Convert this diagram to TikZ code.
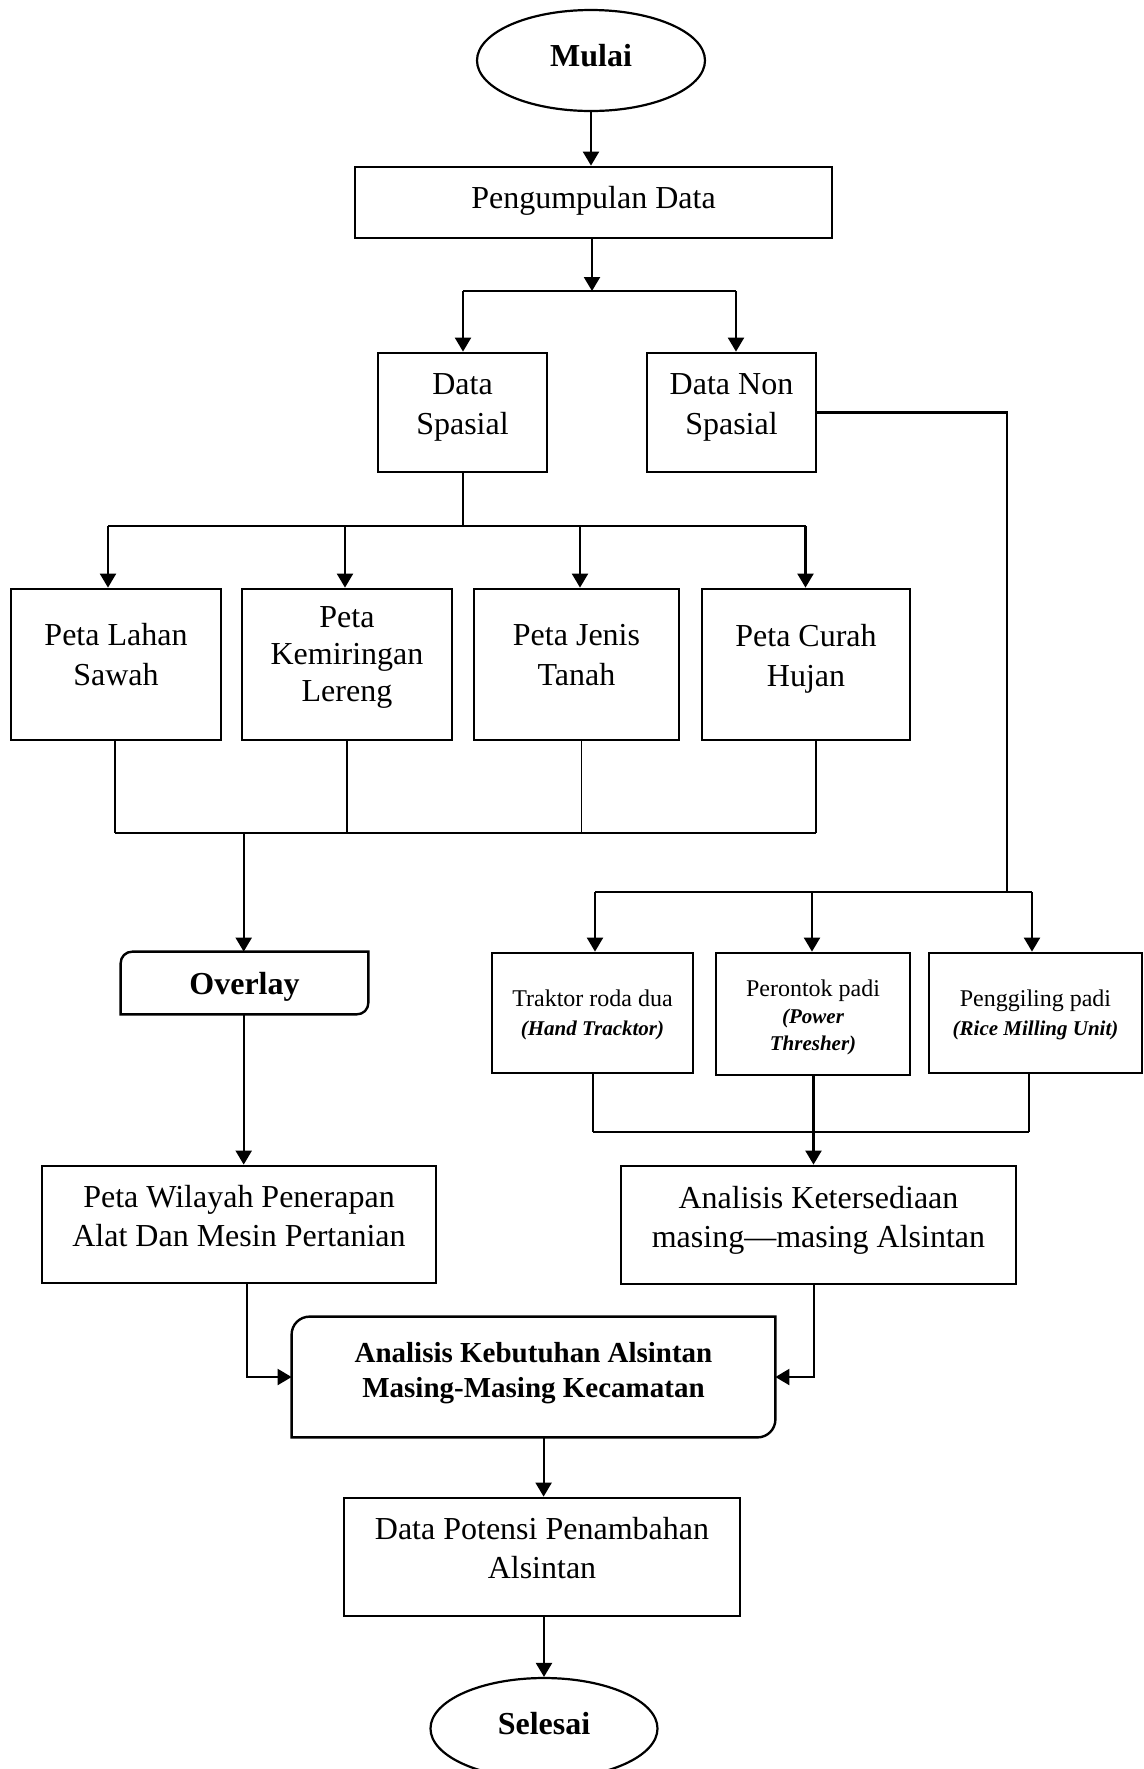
\documentclass[tikz,border=0pt]{standalone}
\usepackage{fontspec}
\setmainfont{Liberation Serif}
\usetikzlibrary{arrows.meta,shapes.geometric,calc}
\newcommand\fbig{\fontsize{16}{19.5}\selectfont}
\newcommand\fsmall{\fontsize{12}{14.5}\selectfont}
\newcommand\fsbi{\fontsize{10.5}{14.5}\selectfont\bfseries\itshape}
\newcommand\fkeb{\fontsize{14.5}{17.5}\selectfont\bfseries}
\begin{document}
\begin{tikzpicture}[x=0.5pt,y=-0.5pt,
  bx/.style={draw, rectangle, line width=1.4pt, inner sep=0pt},
  bnd/.style={rectangle, inner sep=0pt},
  term/.style={draw, ellipse, line width=1.1pt, inner sep=0pt},
  rbx/.style={line width=1.2pt},
  arr/.style={line width=1.1pt, -{Triangle[length=7pt,width=8pt]}},
  ln/.style={line width=1.1pt},
  thn/.style={line width=0.8pt},
  txt/.style={align=center, inner sep=0pt, font=\fbig},
  stxt/.style={align=center, inner sep=0pt, font=\fsmall},
]
\fill[white] (0,0) rectangle (1144,1769);
\useasboundingbox (0,0) rectangle (1144,1769);

% ---------- nodes ----------
\node[term, minimum width=114pt, minimum height=50.5pt] (mulai) at (591,60.5) {};
\node[txt, font=\fbig\bfseries] (mulaiT) at (591,56) {Mulai};

\node[bx, minimum width=238.5pt, minimum height=35.5pt] (peng) at (593.5,202.5) {};
\node[txt] (pengT) at (593.5,201) {Pengumpulan Data};

\node[bx, minimum width=84.5pt, minimum height=59.5pt] (ds) at (462.5,412.5) {};
\node[txt, font=\fontsize{16}{20}\selectfont] (dsT) at (462.5,407) {Data\\Spasial};
\node[bx, minimum width=84.5pt, minimum height=59.5pt] (dns) at (731.5,412.5) {};
\node[txt, font=\fontsize{16}{20}\selectfont] (dnsT) at (731.5,407) {Data Non\\Spasial};

\node[bx, minimum width=105pt, minimum height=75.5pt] (pls) at (116,664.5) {};
\node[txt, font=\fontsize{16}{20}\selectfont] (plsT) at (116,655) {Peta Lahan\\Sawah};
\node[bx, minimum width=105pt, minimum height=75.5pt] (pkl) at (347,664.5) {};
\node[txt, font=\fontsize{16}{18.5}\selectfont] (pklT) at (347,657) {Peta\\Kemiringan\\Lereng};
\node[bx, minimum width=102.5pt, minimum height=75.5pt] (pjt) at (576.5,664.5) {};
\node[txt, font=\fontsize{16}{20}\selectfont] (pjtT) at (576.5,655) {Peta Jenis\\Tanah};
\node[bx, minimum width=104pt, minimum height=75.5pt] (pch) at (806,664.5) {};
\node[txt, font=\fontsize{16}{20}\selectfont] (pchT) at (806,659) {Peta Curah\\Hujan};

\node[bnd, minimum width=123.5pt, minimum height=31pt] (ov) at (244.5,983) {};
\node[txt, font=\fbig\bfseries] (ovT) at (244.5,987) {Overlay};

\node[bx, minimum width=100.5pt, minimum height=60pt] (tr) at (592.5,1013) {};
\node[stxt] (trT) at (592.5,1015) {Traktor roda dua\\{\fsbi (Hand Tracktor)}};
\node[bx, minimum width=97pt, minimum height=61pt] (pr) at (813,1014) {};
\node[stxt, font=\fontsize{12}{13.5}\selectfont] (prT) at (813,1017) {Perontok padi\\{\fontsize{10.5}{13.5}\selectfont\bfseries\itshape (Power}\\{\fontsize{10.5}{13.5}\selectfont\bfseries\itshape Thresher)}};
\node[bx, minimum width=106.5pt, minimum height=60pt] (pg) at (1035.5,1013) {};
\node[stxt] (pgT) at (1035.5,1015) {Penggiling padi\\{\fsbi (Rice Milling Unit)}};

\node[bx, minimum width=197pt, minimum height=58.5pt] (pw) at (239,1224.5) {};
\node[txt] (pwT) at (239,1216.5) {Peta Wilayah Penerapan\\Alat Dan Mesin Pertanian};
\node[bx, minimum width=197.5pt, minimum height=59pt] (ak) at (818.5,1225) {};
\node[txt] (akT) at (818.5,1220) {Analisis Ketersediaan\\masing\textemdash masing Alsintan};

\node[bnd, minimum width=241.5pt, minimum height=60pt] (kb) at (533.5,1377) {};
\node[txt, font=\fkeb] (kbT) at (533.5,1373) {Analisis Kebutuhan Alsintan\\Masing-Masing Kecamatan};

\node[bx, minimum width=198pt, minimum height=59pt] (dp) at (542,1557) {};
\node[txt] (dpT) at (542,1548.5) {Data Potensi Penambahan\\Alsintan};

\node[term, minimum width=113.5pt, minimum height=50.5pt] (sel) at (544,1728.5) {};
\node[txt, font=\fbig\bfseries] (selT) at (544,1724) {Selesai};

% ---------- rounded-corner boxes ----------
\draw[rbx] ($(ov.north west)+(0,12)$) .. controls ($(ov.north west)+(0,5)$) and ($(ov.north west)+(5,0)$) .. ($(ov.north west)+(12,0)$)
  -- (ov.north east) -- ($(ov.south east)+(0,-12)$)
  .. controls ($(ov.south east)+(0,-5)$) and ($(ov.south east)+(-5,0)$) .. ($(ov.south east)+(-12,0)$)
  -- (ov.south west) -- cycle;
\draw[rbx] ($(kb.north west)+(0,18)$) .. controls ($(kb.north west)+(0,8)$) and ($(kb.north west)+(8,0)$) .. ($(kb.north west)+(18,0)$)
  -- (kb.north east) -- ($(kb.south east)+(0,-18)$)
  .. controls ($(kb.south east)+(0,-8)$) and ($(kb.south east)+(-8,0)$) .. ($(kb.south east)+(-18,0)$)
  -- (kb.south west) -- cycle;

% ---------- connectors ----------
\draw[arr] (mulai.south) -- (mulai.south |- peng.north);

\coordinate (busA) at (592,291);
\coordinate (busAl) at (463,291);
\coordinate (busAr) at (736,291);
\draw[arr] (busA |- peng.south) -- (busA);
\draw[ln] (busAl) -- (busAr);
\draw[arr] (busAl) -- (busAl |- ds.north);
\draw[arr] (busAr) -- (busAr |- dns.north);

% Data Spasial -> peta boxes
\coordinate (busB) at (463,526);
\coordinate (busBl) at (108,526);
\coordinate (busBr) at (805.5,526);
\coordinate (b2) at (345,526);
\coordinate (b3) at (580,526);
\draw[thn] (busB |- ds.south) -- (busB);
\draw[ln] (busBl) -- (busBr);
\draw[arr] (busBl) -- (busBl |- pls.north);
\draw[arr] (b2) -- (b2 |- pkl.north);
\draw[arr] (b3) -- (b3 |- pjt.north);
\draw[arr] (busBr) -- (busBr |- pch.north);

% peta boxes -> overlay
\coordinate (d1) at (115,833);
\coordinate (d2) at (347,833);
\coordinate (d3) at (581.5,833);
\coordinate (d4) at (815.7,833);
\coordinate (dm) at (243.7,833);
\draw[thn] (d1 |- pls.south) -- (d1);
\draw[thn] (d2 |- pkl.south) -- (d2);
\draw[thn] (d3 |- pjt.south) -- (d3);
\draw[thn] (d4 |- pch.south) -- (d4);
\draw[thn] (d1) -- (d4);
\draw[arr] (dm) -- (dm |- ov.north);

\draw[arr] (dm |- ov.south) -- (dm |- pw.north);

% Data Non Spasial -> alat boxes
\coordinate (nsc) at (1007,892);
\coordinate (busCl) at (595,892);
\coordinate (busCm) at (812,892);
\coordinate (busCr) at (1032,892);
\draw[ln] (dns.east) -- (dns.east -| nsc) -- (nsc);
\draw[ln] (busCl) -- (busCr);
\draw[arr] (busCl) -- (busCl |- tr.north);
\draw[arr] (busCm) -- (busCm |- pr.north);
\draw[arr] (busCr) -- (busCr |- pg.north);

% alat boxes -> Analisis Ketersediaan
\coordinate (e1) at (593,1132);
\coordinate (e2) at (813.5,1132);
\coordinate (e3) at (1029,1132);
\draw[ln] (e1 |- tr.south) -- (e1);
\draw[ln] (e3 |- pg.south) -- (e3);
\draw[ln] (e1) -- (e3);
\draw[arr] (e2 |- pr.south) -- (e2 |- ak.north);

% into Analisis Kebutuhan
\coordinate (f1) at (246.6,1377);
\coordinate (f2) at (814,1377);
\draw[arr] (f1 |- pw.south) -- (f1) -- (kb.west |- f1);
\draw[arr] (f2 |- ak.south) -- (f2) -- (kb.east |- f2);

\coordinate (gx) at (543.6,1460);
\draw[arr] (gx |- kb.south) -- (gx |- dp.north);
\draw[arr] (sel.north |- dp.south) -- (sel.north);
\end{tikzpicture}
\end{document}
